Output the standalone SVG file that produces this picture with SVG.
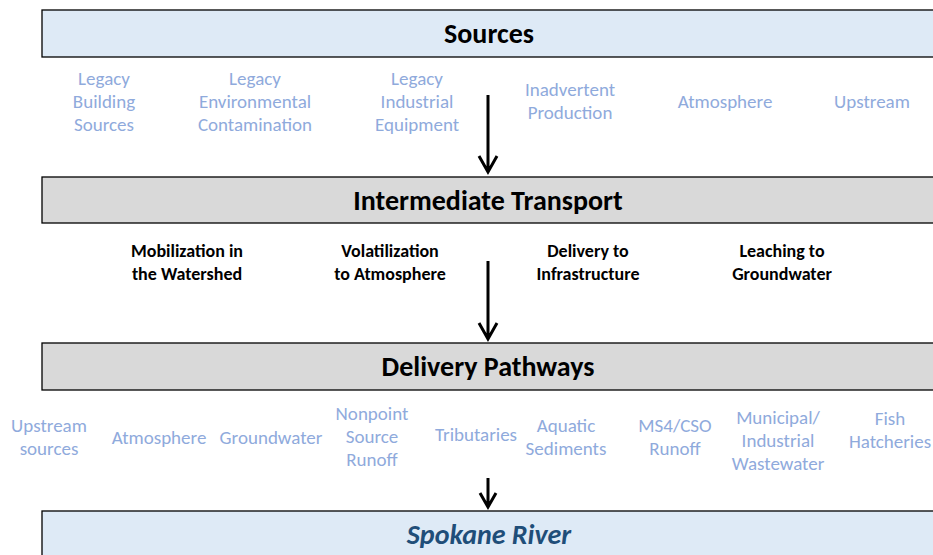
<svg xmlns="http://www.w3.org/2000/svg" width="933" height="555" viewBox="0 0 933 555">
<style>
.box{stroke:#000;stroke-width:1.3}
.src{fill:#DEEAF6}
.mid{fill:#D9D9D9}
.title{font-family:Carlito,Lato,"Liberation Sans",sans-serif;font-weight:bold;font-size:28px;fill:#000;text-anchor:middle}
.river{font-style:italic;fill:#1F4E79}
.lbl{font-family:Carlito,Lato,"Liberation Sans",sans-serif;font-size:19px;fill:#8FAADC;text-anchor:middle}
.blk{font-family:Carlito,Lato,"Liberation Sans",sans-serif;font-size:18px;font-weight:bold;fill:#000;text-anchor:middle}
.arr{stroke:#000;stroke-width:3;fill:none}
</style>
<rect width="933" height="555" fill="#fff"/>
<g id="sources">
<rect class="box src" x="42" y="10" width="900" height="47"/>
<text class="title" x="489" y="43">Sources</text>
</g>
<g id="source-items">
<text class="lbl" x="104" y="85">Legacy</text>
<text class="lbl" x="104" y="108">Building</text>
<text class="lbl" x="104" y="131">Sources</text>
<text class="lbl" x="255" y="85">Legacy</text>
<text class="lbl" x="255" y="108">Environmental</text>
<text class="lbl" x="255" y="131">Contamination</text>
<text class="lbl" x="417" y="85">Legacy</text>
<text class="lbl" x="417" y="108">Industrial</text>
<text class="lbl" x="417" y="131">Equipment</text>
<text class="lbl" x="570" y="96">Inadvertent</text>
<text class="lbl" x="570" y="119">Production</text>
<text class="lbl" x="725" y="108">Atmosphere</text>
<text class="lbl" x="872" y="108">Upstream</text>
</g>
<g id="intermediate">
<rect class="box mid" x="42" y="177" width="900" height="46"/>
<text class="title" x="488" y="210">Intermediate Transport</text>
</g>
<g id="intermediate-items">
<text class="blk" x="187" y="257">Mobilization in</text>
<text class="blk" x="187" y="280">the Watershed</text>
<text class="blk" x="390" y="257">Volatilization</text>
<text class="blk" x="390" y="280">to Atmosphere</text>
<text class="blk" x="588" y="257">Delivery to</text>
<text class="blk" x="588" y="280">Infrastructure</text>
<text class="blk" x="782" y="257">Leaching to</text>
<text class="blk" x="782" y="280">Groundwater</text>
</g>
<g id="delivery">
<rect class="box mid" x="42" y="343" width="900" height="47"/>
<text class="title" x="488" y="376">Delivery Pathways</text>
</g>
<g id="delivery-items">
<text class="lbl" x="49" y="432">Upstream</text>
<text class="lbl" x="49" y="455">sources</text>
<text class="lbl" x="159" y="444">Atmosphere</text>
<text class="lbl" x="271" y="444">Groundwater</text>
<text class="lbl" x="372" y="420">Nonpoint</text>
<text class="lbl" x="372" y="443">Source</text>
<text class="lbl" x="372" y="466">Runoff</text>
<text class="lbl" x="476" y="441">Tributaries</text>
<text class="lbl" x="566" y="432">Aquatic</text>
<text class="lbl" x="566" y="455">Sediments</text>
<text class="lbl" x="675" y="432">MS4/CSO</text>
<text class="lbl" x="675" y="455">Runoff</text>
<text class="lbl" x="778" y="424">Municipal/</text>
<text class="lbl" x="778" y="447">Industrial</text>
<text class="lbl" x="778" y="470">Wastewater</text>
<text class="lbl" x="890" y="425">Fish</text>
<text class="lbl" x="890" y="448">Hatcheries</text>
</g>
<g id="spokane-river">
<rect class="box src" x="42" y="511" width="900" height="60"/>
<text class="title river" x="489" y="544">Spokane River</text>
</g>
<g id="connectors">
<path class="arr" d="M488 95 V172 M479 156 L488 172 L497 156"/>
<path class="arr" d="M488 261 V339 M479 323 L488 339 L497 323"/>
<path class="arr" d="M488 478 V507 M480 493 L488 507 L496 493"/>
</g>
</svg>
